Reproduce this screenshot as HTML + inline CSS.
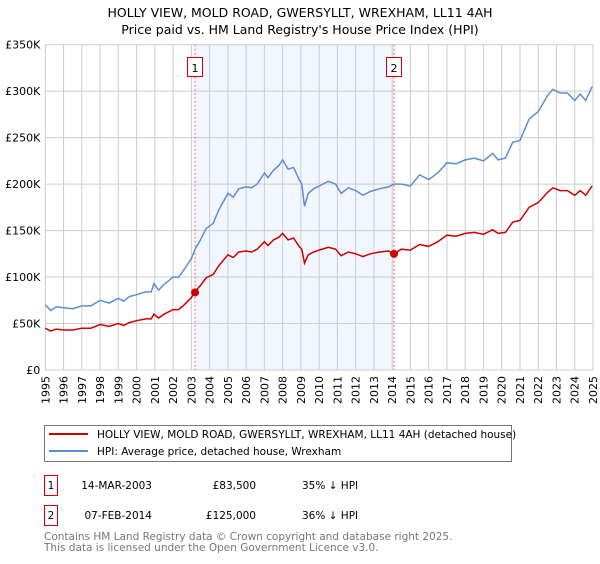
<!DOCTYPE html>
<html><head><meta charset="utf-8"><style>
body{margin:0;background:#fff;width:600px;height:560px;overflow:hidden;font-family:"DejaVu Sans","Liberation Sans",sans-serif}
svg text{font-family:"DejaVu Sans","Liberation Sans",sans-serif}
</style></head><body>
<svg id="chart" width="600" height="560" xmlns="http://www.w3.org/2000/svg">
<text x="300" y="17" text-anchor="middle" font-size="12.5" fill="#000">HOLLY VIEW, MOLD ROAD, GWERSYLLT, WREXHAM, LL11 4AH</text>
<text x="300" y="34" text-anchor="middle" font-size="12.5" fill="#000">Price paid vs. HM Land Registry's House Price Index (HPI)</text>
<g id="grid"></g>
<g id="marks"></g>
<g id="axes"></g>
<g>
<rect x="44.5" y="425.5" width="467" height="36" fill="#fff" stroke="#777"/>
<line x1="49" y1="434" x2="88" y2="434" stroke="#cc0000" stroke-width="2"/>
<text x="97" y="438" font-size="10.5">HOLLY VIEW, MOLD ROAD, GWERSYLLT, WREXHAM, LL11 4AH (detached house)</text>
<line x1="49" y1="451" x2="88" y2="451" stroke="#5b8ed6" stroke-width="2"/>
<text x="97" y="455" font-size="10.5">HPI: Average price, detached house, Wrexham</text>
</g>
<g font-size="10.5">
<rect x="44.5" y="475.5" width="13" height="20" fill="#fff" stroke="#cc0000"/>
<text x="51" y="489" text-anchor="middle">1</text>
<text x="152" y="489" text-anchor="end">14-MAR-2003</text>
<text x="256" y="489" text-anchor="end">£83,500</text>
<text x="302" y="489">35% ↓ HPI</text>
<rect x="44.5" y="505.5" width="13" height="20" fill="#fff" stroke="#cc0000"/>
<text x="51" y="519" text-anchor="middle">2</text>
<text x="152" y="519" text-anchor="end">07-FEB-2014</text>
<text x="256" y="519" text-anchor="end">£125,000</text>
<text x="302" y="519">36% ↓ HPI</text>
</g>
<text x="44" y="540" font-size="10.5" fill="#777">Contains HM Land Registry data © Crown copyright and database right 2025.</text>
<text x="44" y="551" font-size="10.5" fill="#777">This data is licensed under the Open Government Licence v3.0.</text>
</svg>
<script>
const dates=[1995.0,1995.3,1995.6,1996.0,1996.5,1997.0,1997.5,1998.0,1998.5,1999.0,1999.3,1999.6,2000.0,2000.5,2000.8,2000.95,2001.2,2001.5,2002.0,2002.3,2002.6,2003.0,2003.2,2003.5,2003.8,2004.2,2004.5,2005.0,2005.3,2005.6,2006.0,2006.3,2006.6,2007.0,2007.2,2007.5,2007.8,2008.0,2008.3,2008.6,2008.9,2009.05,2009.2,2009.4,2009.7,2010.0,2010.5,2010.9,2011.2,2011.6,2012.0,2012.4,2012.8,2013.3,2013.8,2014.1,2014.5,2015.0,2015.5,2016.0,2016.5,2017.0,2017.5,2018.0,2018.5,2019.0,2019.5,2019.8,2020.2,2020.6,2021.0,2021.5,2022.0,2022.5,2022.8,2023.2,2023.6,2024.0,2024.3,2024.6,2024.95];
const hpi=[70,64,68,67,66,69,69,75,72,77,74,79,81,84,84,93,86,92,100,100,108,120,130,140,152,158,172,190,186,195,197,196,200,212,207,215,220,226,216,218,205,200,176,190,195,198,203,200,190,196,193,188,192,195,197,200,200,198,210,205,212,223,222,226,228,225,233,226,228,245,247,270,278,295,302,298,298,290,297,290,305];
const paid=[45,42,44,43,43,45,45,49,47,50,48,51,53,55,55,60,56,60,65,65,70,78,84,91,99,103,112,124,121,127,128,127,130,138,134,140,143,147,140,142,133,130,115,124,127,129,132,130,123,127,125,122,125,127,128,125,130,129,135,133,138,145,144,147,148,146,151,147,148,159,161,175,180,191,196,193,193,188,193,188,198];
const yTicks=[0,50,100,150,200,250,300,350];
const yTickLabels=["£0","£50K","£100K","£150K","£200K","£250K","£300K","£350K"];
const years=[1995,1996,1997,1998,1999,2000,2001,2002,2003,2004,2005,2006,2007,2008,2009,2010,2011,2012,2013,2014,2015,2016,2017,2018,2019,2020,2021,2022,2023,2024,2025];
const saleDates=[2003.2,2014.1];
const salePrices=[83.5,125];
const saleLabels=["1","2"];

const X0=45.3,X1=593,Y0=370,Y1=44.7;
const xs=v=>X0+(v-1995)/30*(X1-X0);
const ys=v=>Y0-v/350*(Y0-Y1);
const NS="http://www.w3.org/2000/svg";
function mk(tag,attrs,parent){const e=document.createElementNS(NS,tag);for(const k in attrs)e.setAttribute(k,attrs[k]);parent.appendChild(e);return e;}
const grid=document.getElementById('grid'),marks=document.getElementById('marks'),axes=document.getElementById('axes');
// shaded ownership region
const band=mk('rect',{x:xs(saleDates[0]),y:Y1,width:xs(saleDates[1])-xs(saleDates[0]),height:Y0-Y1,fill:'#eef3fd',opacity:0.75},grid);


years.forEach(y=>{const l=mk('line',{x1:xs(y),x2:xs(y),y1:Y1,y2:Y0,stroke:'#cccccc','stroke-width':1},grid);


const t=mk('text',{transform:`translate(${xs(y)+4},${Y0+6}) rotate(-90)`,'text-anchor':'end','font-size':11},axes);
t.textContent=y;

});
yTicks.forEach((v,i)=>{const l=mk('line',{x1:X0,x2:X1,y1:ys(v),y2:ys(v),stroke:'#cccccc','stroke-width':1},grid);


const t=mk('text',{x:X0-5,y:ys(v)+4,'text-anchor':'end','font-size':11},axes);
t.textContent=yTickLabels[i];

});
const pathOf=arr=>arr.map((v,i)=>(i?'L':'M')+xs(dates[i]).toFixed(1)+','+ys(v).toFixed(1)).join('');
saleDates.forEach((d,i)=>{const l=mk('line',{x1:xs(d),x2:xs(d),y1:Y1,y2:Y0,stroke:'#ee6666','stroke-dasharray':'2,2','stroke-width':1},marks);


const r=mk('rect',{x:xs(d)-7.5,y:57.5,width:15,height:19,fill:'#fff',stroke:'#cc0000'},marks);


const t=mk('text',{x:xs(d),y:72,'text-anchor':'middle','font-size':11},marks);
t.textContent=saleLabels[i];

});
const hl=mk('path',{d:pathOf(hpi),fill:'none',stroke:'#5b8ed6','stroke-width':1.5},marks);


const pl=mk('path',{d:pathOf(paid),fill:'none',stroke:'#cc0000','stroke-width':1.5},marks);


saleDates.forEach((d,i)=>{const c=mk('circle',{cx:xs(d),cy:ys(salePrices[i]),r:4,fill:'#cc0000'},marks);

});
</script>
</body></html>
